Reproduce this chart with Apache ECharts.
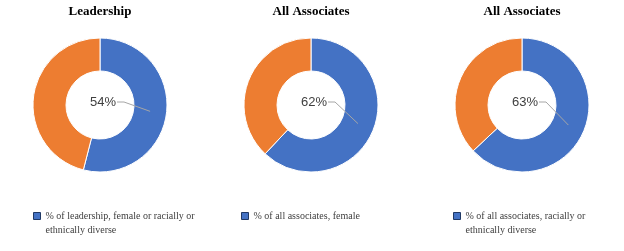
<!DOCTYPE html>
<html>
<head>
<meta charset="utf-8">
<script src="https://cdn.jsdelivr.net/npm/echarts@6/dist/echarts.min.js"></script>
<style>
  html, body { margin: 0; padding: 0; background: #fff; }
  #main { width: 624px; height: 251px; }
</style>
</head>
<body>
<div id="main"></div>
<script>
// chart data
var titles = ['Leadership', 'All Associates', 'All Associates'];
var shareNames = ['% of leadership, female or racially or ethnically diverse',
                  '% of all associates, female',
                  '% of all associates, racially or ethnically diverse'];
var shareValues = [54, 62, 63];
var restName = 'Other';

// layout of each donut
var centersX = [100, 311, 522];
var centerY = 105;
var innerR = 34, outerR = 67;
var legendLeft = [33, 241, 453];
var labelFont = '13px "Liberation Sans"';

var myChart = echarts.init(document.getElementById('main'));

var titleList = [];
var legendList = [];
var seriesList = [];

for (var i = 0; i < titles.length; i++) {
    titleList.push({
        text: titles[i],
        left: centersX[i],
        top: 5,
        padding: 0,
        textAlign: 'center',
        textStyle: {
            fontFamily: 'Liberation Serif',
            fontWeight: 'bold',
            fontSize: 13,
            color: '#000'
        }
    });

    // long legend texts wrap; an empty first line keeps the icon on the first text line
    var wrapped = shareNames[i].length > 35;
    legendList.push({
        data: [shareNames[i]],
        left: legendLeft[i],
        top: wrapped ? 195 : 209,
        padding: 0,
        itemWidth: 7,
        itemHeight: 7,
        icon: 'rect',
        itemStyle: { borderColor: '#1f3864', borderWidth: 1 },
        formatter: wrapped ? function (name) { return '\n' + name; } : '{name}',
        textStyle: {
            fontFamily: 'Liberation Serif',
            fontSize: 10,
            color: '#404040',
            width: 155,
            overflow: 'break',
            lineHeight: 14
        }
    });

    (function (cx) {
        seriesList.push({
            type: 'pie',
            center: [cx, centerY],
            radius: [innerR, outerR],
            startAngle: 90,
            clockwise: true,
            silent: true,
            itemStyle: { borderColor: '#fff', borderWidth: 1 },
            label: {
                show: true,
                position: 'outside',
                formatter: '{d}%',
                fontFamily: 'Liberation Sans',
                fontSize: 13,
                color: '#404040',
                overflow: 'none'
            },
            labelLine: { show: false },
            labelLayout: function () {
                return { x: cx + 3, y: centerY - 3, align: 'center', verticalAlign: 'middle' };
            },
            data: [
                { name: shareNames[i], value: shareValues[i], itemStyle: { color: '#4472C4' } },
                { name: restName, value: 100 - shareValues[i], itemStyle: { color: '#ED7D31' },
                  label: { show: false } }
            ]
        });
    })(centersX[i]);
}

var option = {
    backgroundColor: '#fff',
    animation: false,
    title: titleList,
    legend: legendList,
    series: seriesList
};

myChart.setOption(option);

// leader lines: from the label to the middle of the blue ring
var ctx = document.createElement('canvas').getContext('2d');
ctx.font = labelFont;
var lines = [];
for (var s = 0; s < seriesList.length; s++) {
    var lay = myChart.getModel().getSeriesByIndex(s).getData().getItemLayout(0);
    var mid = (lay.startAngle + lay.endAngle) / 2;
    var rm = (lay.r + lay.r0) / 2;
    var lx = lay.cx + 3, ly = centerY - 3;
    var ex = lx + ctx.measureText(shareValues[s] + '%').width / 2 + 1;
    lines.push({
        type: 'polyline',
        z: 100,
        silent: true,
        shape: { points: [[ex, ly], [ex + 7, ly],
                          [lay.cx + rm * Math.cos(mid), lay.cy + rm * Math.sin(mid)]] },
        style: { stroke: '#a6a6a6', lineWidth: 1, fill: null }
    });
}
myChart.setOption({ graphic: lines });
</script>
</body>
</html>
